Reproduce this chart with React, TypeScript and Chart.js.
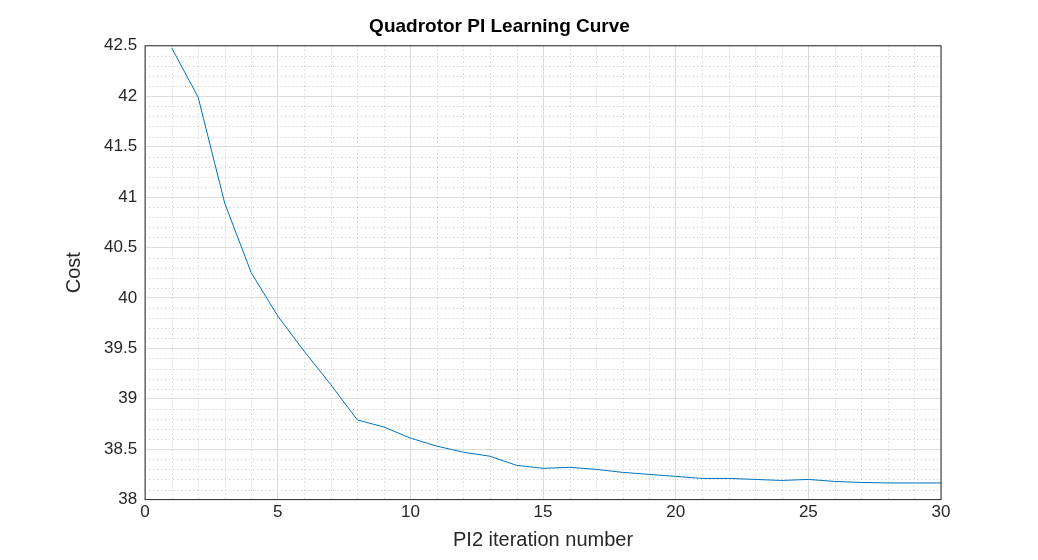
import React, { useEffect, useRef } from 'react';
import { Chart, registerables } from 'chart.js';

Chart.register(...registerables);

const iterations = Array.from({ length: 30 }, (_, i) => i + 1);
const cost = [
  42.48, 41.99, 40.94, 40.25, 39.82, 39.47, 39.14, 38.79, 38.72, 38.61,
  38.53, 38.47, 38.43, 38.34, 38.31, 38.32, 38.30, 38.27, 38.25, 38.23,
  38.21, 38.21, 38.20, 38.19, 38.20, 38.18, 38.17, 38.165, 38.165, 38.165,
];
const xMinorTicks = Array.from({ length: 29 }, (_, i) => i + 1);
const yMinorTicks = [38.1, 38.2, 38.3, 38.4, 38.6, 38.7, 38.8, 38.9, 39.1, 39.2, 39.3, 39.4,
  39.6, 39.7, 39.8, 39.9, 40.1, 40.2, 40.3, 40.4, 40.6, 40.7, 40.8, 40.9, 41.1, 41.2, 41.3, 41.4,
  41.6, 41.7, 41.8, 41.9, 42.1, 42.2, 42.3, 42.4];

const minorGrid = {
  id: 'minorGrid',
  beforeDatasetsDraw(chart: Chart) {
    const { ctx, chartArea: a, scales } = chart;
    ctx.save();
    ctx.strokeStyle = '#c8c8c8';
    ctx.lineWidth = 1;
    ctx.setLineDash([1, 3]);
    ctx.beginPath();
    xMinorTicks.forEach((v) => {
      if (v % 5 === 0) return;
      const x = Math.round(scales.x.getPixelForValue(v)) + 0.5;
      ctx.moveTo(x, a.top); ctx.lineTo(x, a.bottom);
    });
    yMinorTicks.forEach((v) => {
      const y = Math.round(scales.y.getPixelForValue(v)) + 0.5;
      ctx.moveTo(a.left, y); ctx.lineTo(a.right, y);
    });
    ctx.stroke();
    ctx.restore();
  },
  afterDraw(chart: Chart) {
    const { ctx, chartArea: a } = chart;
    ctx.save();
    ctx.strokeStyle = '#262626';
    ctx.lineWidth = 1;
    ctx.strokeRect(a.left, a.top, a.right - a.left, a.bottom - a.top);
    ctx.restore();
  },
};

export default function App() {
  const canvasRef = useRef<HTMLCanvasElement>(null);
  const chartRef = useRef<Chart | null>(null);

  useEffect(() => {
    document.body.style.margin = '0';
    if (!canvasRef.current) return;
    const ctx = canvasRef.current.getContext('2d');
    if (!ctx) return;
    if (chartRef.current) chartRef.current.destroy();
    const font = 'Helvetica, "Liberation Sans", Arial, sans-serif';

    chartRef.current = new Chart(ctx, {
      type: 'line',
      data: {
        datasets: [{
          data: iterations.map((x, i) => ({ x, y: cost[i] })),
          borderColor: '#0072bd',
          borderWidth: 1,
          pointRadius: 0,
          tension: 0,
        }],
      },
      plugins: [minorGrid],
      options: {
        responsive: false,
        animation: false,
        layout: { padding: { left: 58, right: 97, top: 0, bottom: 8 } },
        scales: {
          x: {
            type: 'linear', min: 0, max: 30,
            ticks: { stepSize: 5, color: '#262626', font: { size: 17, family: font }, maxRotation: 0 },
            grid: { color: '#dcdcdc', drawTicks: false },
            border: { display: false },
            title: { display: true, text: 'PI2 iteration number', color: '#262626', font: { size: 20, family: font }, padding: { top: 2, bottom: 0 } },
          },
          y: {
            min: 38, max: 42.5,
            ticks: { stepSize: 0.5, color: '#262626', font: { size: 17, family: font }, padding: 8, callback: (v) => String(Number(v)) },
            grid: { color: '#dcdcdc', drawTicks: false },
            border: { display: false },
            title: { display: true, text: 'Cost', color: '#262626', font: { size: 20, family: font }, padding: { bottom: 10 } },
          },
        },
        plugins: {
          legend: { display: false },
          tooltip: { enabled: false },
          title: { display: true, text: 'Quadrotor PI Learning Curve', color: '#000', font: { size: 19, weight: 'bold', family: font }, padding: { top: 15, bottom: 8 } },
        },
      },
    });

    return () => { if (chartRef.current) chartRef.current.destroy(); };
  }, []);

  return <canvas ref={canvasRef} width={1038} height={560} />;
}
